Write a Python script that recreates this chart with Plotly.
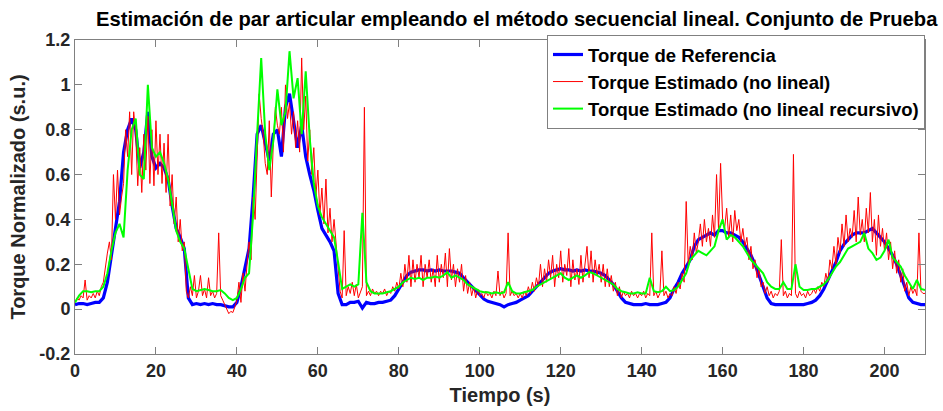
import plotly.graph_objects as go

# ---------------- data ----------------
t_ref = list(range(0, 211))  # 1 s sampling for reference and recursive estimate

torque_ref = [
    0.02, 0.025, 0.025, 0.02, 0.025, 0.03, 0.03, 0.05, 0.12, 0.24,
    0.38, 0.48, 0.70, 0.80, 0.85, 0.80, 0.63, 0.70, 0.88, 0.68,
    0.63, 0.65, 0.63, 0.58, 0.46, 0.36, 0.32, 0.27, 0.05, 0.02,
    0.025, 0.02, 0.025, 0.02, 0.025, 0.02, 0.02, 0.015, 0.01, 0.01,
    0.03, 0.10, 0.18, 0.27, 0.50, 0.78, 0.82, 0.74, 0.66, 0.78,
    0.80, 0.68, 0.90, 0.96, 0.85, 0.72, 0.82, 0.68, 0.60, 0.53,
    0.44, 0.36, 0.33, 0.30, 0.26, 0.07, 0.02, 0.02, 0.03, 0.03,
    0.035, 0.005, 0.03, 0.025, 0.025, 0.03, 0.03, 0.035, 0.04, 0.06,
    0.09, 0.12, 0.15, 0.165, 0.17, 0.175, 0.175, 0.17, 0.175, 0.17,
    0.175, 0.17, 0.17, 0.17, 0.165, 0.16, 0.14, 0.12, 0.10, 0.08,
    0.06, 0.045, 0.035, 0.03, 0.025, 0.02, 0.01, 0.02, 0.025, 0.03,
    0.04, 0.05, 0.06, 0.08, 0.10, 0.12, 0.14, 0.16, 0.17, 0.175,
    0.18, 0.175, 0.175, 0.17, 0.175, 0.17, 0.175, 0.17, 0.17, 0.165,
    0.16, 0.15, 0.13, 0.11, 0.08, 0.05, 0.03, 0.025, 0.02, 0.02,
    0.02, 0.025, 0.02, 0.02, 0.02, 0.025, 0.03, 0.05, 0.09, 0.12,
    0.16, 0.19, 0.22, 0.28, 0.31, 0.32, 0.33, 0.34, 0.33, 0.35,
    0.35, 0.34, 0.34, 0.33, 0.32, 0.30, 0.27, 0.24, 0.20, 0.15,
    0.10, 0.05, 0.025, 0.02, 0.02, 0.02, 0.02, 0.02, 0.02, 0.02,
    0.02, 0.025, 0.03, 0.04, 0.06, 0.09, 0.13, 0.17, 0.21, 0.26,
    0.29, 0.31, 0.33, 0.34, 0.34, 0.34, 0.35, 0.36, 0.34, 0.32,
    0.30, 0.27, 0.24, 0.20, 0.15, 0.10, 0.05, 0.03, 0.025, 0.02,
    0.02,
]

torque_rec = [
    0.03, 0.06, 0.08, 0.08, 0.075, 0.08, 0.08, 0.10, 0.16, 0.26,
    0.34, 0.38, 0.32, 0.62, 0.80, 0.85, 0.60, 0.58, 1.00, 0.72,
    0.68, 0.70, 0.65, 0.58, 0.47, 0.35, 0.30, 0.27, 0.18, 0.09,
    0.08, 0.085, 0.09, 0.085, 0.08, 0.08, 0.085, 0.07, 0.05, 0.04,
    0.05, 0.09, 0.14, 0.16, 0.42, 0.78, 1.12, 0.78, 0.62, 0.75,
    0.98, 0.82, 0.88, 1.15, 0.94, 1.03, 0.78, 1.06, 0.76, 0.56,
    0.46, 0.41, 0.38, 0.35, 0.32, 0.21, 0.09, 0.10, 0.11, 0.10,
    0.11, 0.43, 0.12, 0.08, 0.07, 0.07, 0.07, 0.075, 0.08, 0.09,
    0.10, 0.12, 0.13, 0.14, 0.135, 0.14, 0.13, 0.14, 0.14, 0.145,
    0.14, 0.15, 0.165, 0.14, 0.15, 0.14, 0.13, 0.11, 0.10, 0.09,
    0.08, 0.075, 0.075, 0.07, 0.075, 0.07, 0.075, 0.12, 0.08, 0.07,
    0.07, 0.075, 0.08, 0.085, 0.10, 0.11, 0.12, 0.13, 0.14, 0.15,
    0.16, 0.14, 0.13, 0.14, 0.15, 0.14, 0.15, 0.165, 0.16, 0.15,
    0.14, 0.13, 0.12, 0.11, 0.09, 0.08, 0.075, 0.07, 0.07, 0.075,
    0.07, 0.07, 0.14, 0.08, 0.075, 0.08, 0.10, 0.08, 0.085, 0.10,
    0.13, 0.16, 0.22, 0.24, 0.26, 0.25, 0.24, 0.26, 0.28, 0.35,
    0.40, 0.31, 0.33, 0.32, 0.30, 0.28, 0.25, 0.22, 0.20, 0.18,
    0.16, 0.12, 0.10, 0.09, 0.09, 0.12, 0.09, 0.09, 0.20, 0.10,
    0.085, 0.085, 0.09, 0.09, 0.10, 0.11, 0.13, 0.16, 0.19, 0.21,
    0.24, 0.27, 0.28, 0.29, 0.30, 0.34, 0.27, 0.25, 0.22, 0.23,
    0.26, 0.31, 0.23, 0.21, 0.19, 0.15, 0.12, 0.09, 0.13, 0.09,
    0.085,
]

t_est = [i * 0.5 for i in range(421)]  # 0.5 s sampling for the non-linear estimate

torque_nl = [
    0.03, 0.05, 0.04, 0.06, 0.05, 0.13, 0.04, 0.06, 0.05, 0.07,
    0.05, 0.08, 0.06, 0.10, 0.12, 0.20, 0.25, 0.30, 0.22, 0.60,
    0.40, 0.62, 0.42, 0.50, 0.56, 0.80, 0.68, 0.88, 0.60, 0.88,
    0.78, 0.55, 0.72, 0.52, 0.78, 0.62, 0.86, 0.56, 0.80, 0.55,
    0.84, 0.60, 0.78, 0.56, 0.74, 0.52, 0.78, 0.46, 0.60, 0.38,
    0.50, 0.30, 0.40, 0.26, 0.30, 0.08, 0.05, 0.10, 0.06, 0.15,
    0.05, 0.08, 0.15, 0.06, 0.09, 0.05, 0.14, 0.06, 0.08, 0.05,
    0.07, 0.34, 0.06, 0.04, 0.02, 0.00, -0.02, -0.01, -0.015, 0.01,
    0.04, 0.12, 0.03, 0.16, 0.08, 0.20, 0.30, 0.22, 0.50, 0.40,
    0.72, 0.96, 0.85, 0.78, 0.65, 0.60, 0.84, 0.50, 0.74, 0.90,
    0.82, 0.78, 0.90, 0.70, 1.00, 0.85, 0.92, 0.78, 0.88, 0.72,
    0.84, 0.70, 1.12, 0.80, 0.95, 0.66, 0.80, 0.60, 0.72, 0.50,
    0.62, 0.42, 0.54, 0.38, 0.58, 0.34, 0.45, 0.30, 0.40, 0.28,
    0.18, 0.08, 0.05, 0.35, 0.06, 0.10, 0.07, 0.12, 0.06, 0.11,
    0.05, 0.08, 0.10, 0.90, 0.06, 0.08, 0.06, 0.09, 0.07, 0.08,
    0.06, 0.08, 0.07, 0.09, 0.06, 0.08, 0.07, 0.10, 0.08, 0.12,
    0.09, 0.16, 0.10, 0.20, 0.12, 0.24, 0.10, 0.22, 0.12, 0.20,
    0.14, 0.24, 0.10, 0.20, 0.14, 0.22, 0.12, 0.18, 0.10, 0.24,
    0.12, 0.20, 0.14, 0.25, 0.10, 0.27, 0.13, 0.20, 0.10, 0.18,
    0.12, 0.20, 0.08, 0.15, 0.07, 0.12, 0.06, 0.10, 0.05, 0.09,
    0.06, 0.07, 0.05, 0.08, 0.06, 0.07, 0.05, 0.08, 0.06, 0.17,
    0.06, 0.08, 0.05, 0.07, 0.34, 0.06, 0.08, 0.06, 0.07, 0.05,
    0.07, 0.05, 0.08, 0.06, 0.10, 0.07, 0.12, 0.08, 0.14, 0.10,
    0.20, 0.10, 0.18, 0.12, 0.22, 0.14, 0.24, 0.10, 0.20, 0.14,
    0.26, 0.12, 0.20, 0.15, 0.27, 0.10, 0.22, 0.13, 0.18, 0.11,
    0.24, 0.12, 0.20, 0.28, 0.14, 0.26, 0.12, 0.22, 0.15, 0.20,
    0.12, 0.20, 0.10, 0.18, 0.10, 0.15, 0.08, 0.12, 0.06, 0.10,
    0.05, 0.08, 0.06, 0.07, 0.05, 0.08, 0.06, 0.07, 0.05, 0.07,
    0.06, 0.08, 0.05, 0.07, 0.06, 0.34, 0.06, 0.08, 0.05, 0.07,
    0.26, 0.06, 0.08, 0.05, 0.07, 0.06, 0.10, 0.07, 0.12, 0.09,
    0.16, 0.12, 0.48, 0.20, 0.28, 0.22, 0.34, 0.25, 0.30, 0.38,
    0.28, 0.40, 0.30, 0.36, 0.28, 0.42, 0.32, 0.60, 0.35, 0.65,
    0.40, 0.36, 0.45, 0.32, 0.42, 0.30, 0.44, 0.35, 0.40, 0.30,
    0.36, 0.28, 0.32, 0.22, 0.28, 0.18, 0.22, 0.14, 0.18, 0.10,
    0.12, 0.07, 0.10, 0.06, 0.08, 0.05, 0.07, 0.06, 0.08, 0.31,
    0.06, 0.08, 0.05, 0.07, 0.06, 0.69, 0.07, 0.05, 0.08, 0.06,
    0.07, 0.05, 0.08, 0.06, 0.07, 0.09, 0.07, 0.10, 0.08, 0.12,
    0.10, 0.16, 0.12, 0.22, 0.18, 0.28, 0.20, 0.32, 0.25, 0.38,
    0.28, 0.42, 0.30, 0.36, 0.32, 0.44, 0.30, 0.50, 0.33, 0.40,
    0.30, 0.45, 0.34, 0.52, 0.30, 0.40, 0.24, 0.42, 0.28, 0.36,
    0.26, 0.34, 0.22, 0.30, 0.18, 0.26, 0.16, 0.22, 0.12, 0.18,
    0.08, 0.12, 0.06, 0.10, 0.07, 0.09, 0.06, 0.34, 0.08, 0.07,
    0.07,
]

x_ticks = [0, 20, 40, 60, 80, 100, 120, 140, 160, 180, 200]
y_ticks = [-0.2, 0, 0.2, 0.4, 0.6, 0.8, 1, 1.2]
y_tick_labels = ["-0.2", "0", "0.2", "0.4", "0.6", "0.8", "1", "1.2"]

names = ["Torque de Referencia", "Torque Estimado (no lineal)",
         "Torque Estimado (no lineal recursivo)"]
title = "Estimación de par articular empleando el método secuencial lineal. Conjunto de Prueba"

# ---------------- figure ----------------
FONT = "Liberation Sans, Arial, sans-serif"
DARK = "#262626"

fig = go.Figure()
fig.add_trace(go.Scatter(x=t_ref, y=torque_ref, mode="lines", name=names[0],
                         line=dict(color="#0000FF", width=3.2)))
fig.add_trace(go.Scatter(x=t_est, y=torque_nl, mode="lines", name=names[1],
                         line=dict(color="#FF0000", width=1)))
fig.add_trace(go.Scatter(x=t_ref, y=torque_rec, mode="lines", name=names[2],
                         line=dict(color="#00FF00", width=2)))

axis_common = dict(
    showline=True, linecolor="#808080", linewidth=1, mirror="ticks",
    ticks="inside", ticklen=7, tickcolor="#808080", showgrid=False,
    zeroline=False, automargin=False,
    tickfont=dict(family=FONT, size=18, color=DARK, weight="bold"),
)

fig.update_layout(
    width=943, height=411,
    margin=dict(l=75, r=18, t=40, b=57, autoexpand=False),
    paper_bgcolor="white", plot_bgcolor="white",
    title=dict(text=title, x=96 / 943, xanchor="left", xref="container",
               y=0.955, yanchor="middle",
               font=dict(family=FONT, size=20.2, color="black", weight="bold")),
    xaxis=dict(range=[0, 210], tickvals=x_ticks,
               title=dict(text="Tiempo (s)", standoff=8,
                          font=dict(family=FONT, size=20, color=DARK, weight="bold")),
               **axis_common),
    yaxis=dict(range=[-0.2, 1.2], tickvals=y_ticks, ticktext=y_tick_labels,
               title=dict(text="Torque Normalizado (s.u.)", standoff=8,
                          font=dict(family=FONT, size=20, color=DARK, weight="bold")),
               **axis_common),
    legend=dict(x=1, y=1.016, xanchor="right", yanchor="top",
                bgcolor="white", bordercolor="#808080", borderwidth=1,
                font=dict(family=FONT, size=18.5, color="black", weight="bold"),
                tracegroupgap=0, itemwidth=30),
    showlegend=True,
)

fig.write_html("out.html",
               config={"displayModeBar": False},
               post_script="document.body.style.margin='0';document.body.style.padding='0';")
